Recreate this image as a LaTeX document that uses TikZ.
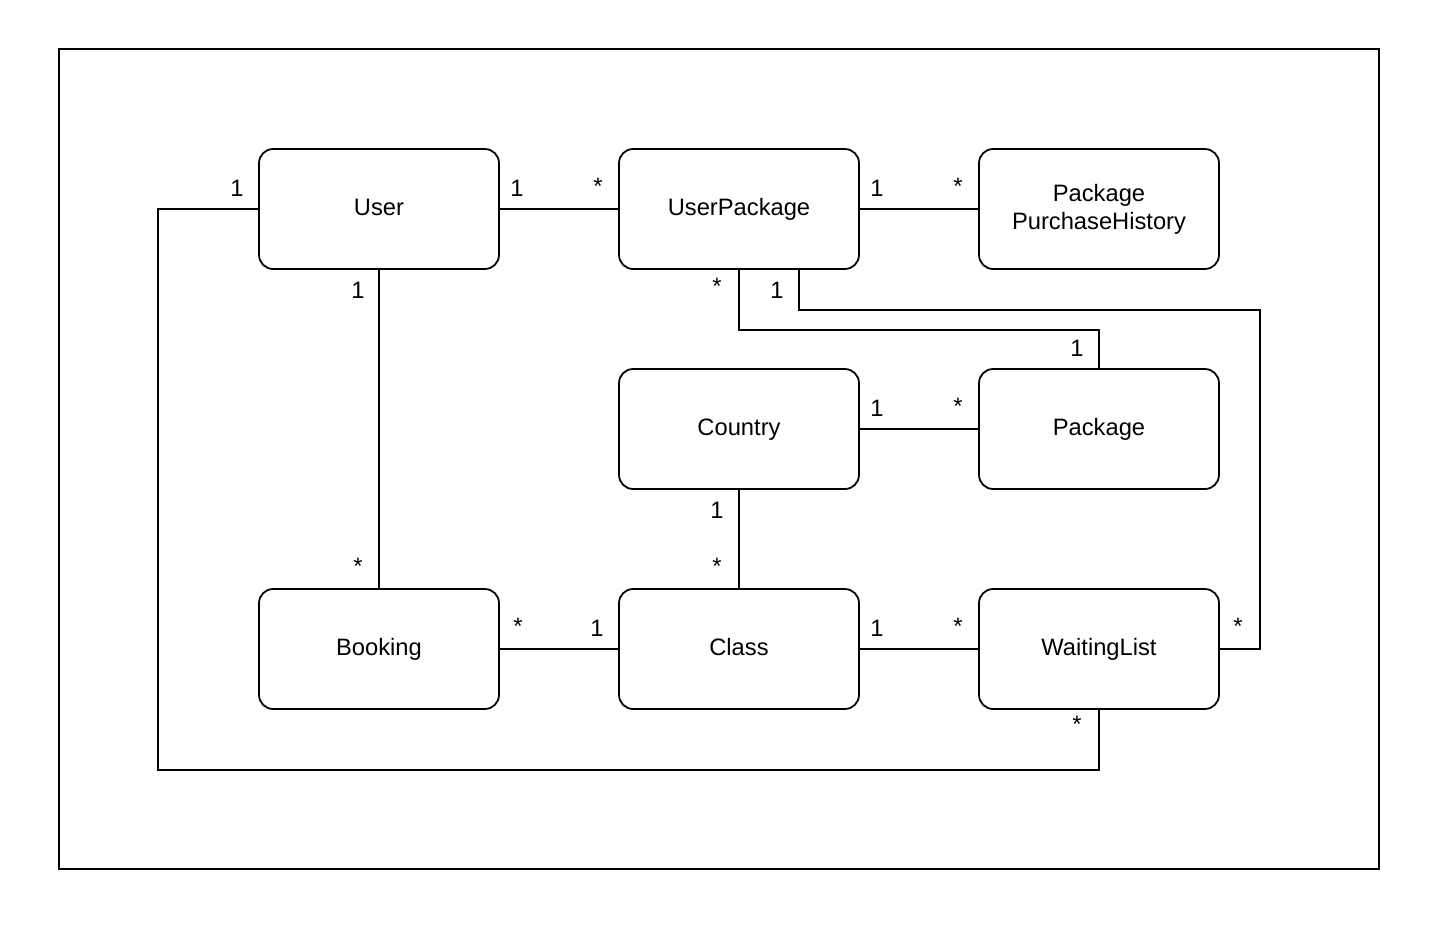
\documentclass[tikz,border=0pt]{standalone}
\usepackage{fontspec}
\setmainfont{Liberation Sans}
\usetikzlibrary{positioning}

\begin{document}
\begin{tikzpicture}[
    x=0.02cm, y=-0.02cm,
    % Styles
    entity/.style={
        rectangle, rounded corners=8pt,
        draw=black, fill=white,
        line width=1pt,
        minimum width=4.8cm, minimum height=2.4cm,
        font=\fontsize{13.5}{16}\selectfont,
        text height=0.92em, text depth=0.2em,
        align=center
    },
    link/.style={line width=1pt, color=black},
    mult/.style={font=\fontsize{13.5}{16}\selectfont, inner sep=0pt},
]
\useasboundingbox (0,0) rectangle (1448,940);

% Frame
\draw[line width=1pt] (59,49) rectangle (1379,869);

% Entities
\node[entity] (user) at (379,209) {User};
\node[entity] (userpkg) at (739,209) {UserPackage};
\node[entity, text height=, text depth=] (history) at (1099,209) {Package\\PurchaseHistory};
\node[entity] (country) at (739,429) {Country};
\node[entity] (package) at (1099,429) {Package};
\node[entity] (booking) at (379,649) {Booking};
\node[entity] (class) at (739,649) {Class};
\node[entity] (waiting) at (1099,649) {WaitingList};

% Connectors
\draw[link] (user) -- (userpkg);
\draw[link] (userpkg) -- (history);
\draw[link] (user) -- (booking);
\draw[link] (country) -- (package);
\draw[link] (country) -- (class);
\draw[link] (booking) -- (class);
\draw[link] (class) -- (waiting);
\draw[link] (userpkg.south) -- ++(0,-1.2cm) -| (package.north);
\draw[link] ([xshift=1.2cm]userpkg.south) -- ++(0,-0.8cm) -| ([xshift=0.8cm]waiting.east) -- (waiting.east);
\draw[link] (user.west) -- ++(-2cm,0) |- ([yshift=-1.2cm]waiting.south) -- (waiting.south);

% Multiplicities
\node[mult] (m1) at (517,188) {1};
\node[mult] (m2) at (598,186) {*};
\node[mult] (m3) at (877,188) {1};
\node[mult] (m4) at (958,186) {*};
\node[mult] (m5) at (358,290) {1};
\node[mult] (m6) at (358,566) {*};
\node[mult] (m7) at (717,286) {*};
\node[mult] (m8) at (1077,348) {1};
\node[mult] (m9) at (777,290) {1};
\node[mult] (m10) at (1238,626) {*};
\node[mult] (m11) at (877,408) {1};
\node[mult] (m12) at (958,406) {*};
\node[mult] (m13) at (717,510) {1};
\node[mult] (m14) at (717,566) {*};
\node[mult] (m15) at (518,626) {*};
\node[mult] (m16) at (597,628) {1};
\node[mult] (m17) at (877,628) {1};
\node[mult] (m18) at (958,626) {*};
\node[mult] (m19) at (237,188) {1};
\node[mult] (m20) at (1077,724) {*};

\end{tikzpicture}
\end{document}
